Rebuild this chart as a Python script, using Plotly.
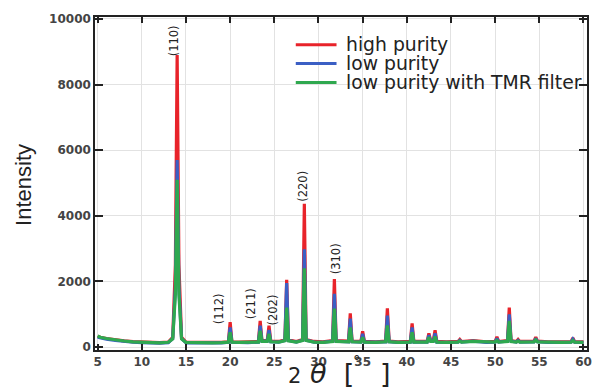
import plotly.graph_objects as go

two_theta = [5.0, 5.3, 6, 7, 8, 9, 10, 11, 12, 13, 13.5, 13.8, 14.0, 14.2, 14.5, 15, 16, 17, 18, 19,
             19.8, 20.0, 20.2, 21, 22, 23.2, 23.4, 23.6, 24.2, 24.4, 24.6, 25.5, 26.2, 26.4, 26.6, 27.5,
             28.2, 28.4, 28.6, 29.5, 30.5, 31.6, 31.8, 32.0, 33.4, 33.6, 33.8, 34.8, 35.0, 35.2, 36.5,
             37.6, 37.8, 38.0, 39, 40.4, 40.6, 40.8, 42.3, 42.5, 42.7, 43.0, 43.2, 43.4, 44.5, 45.8,
             46.0, 46.2, 47.5, 49, 50.0, 50.2, 50.4, 51.4, 51.6, 51.8, 52.4, 52.6, 52.8, 54.4, 54.6,
             54.8, 56, 57.5, 58.6, 58.8, 59.0, 60]

high_purity = [330, 300, 260, 220, 190, 165, 150, 140, 135, 150, 300, 2500, 8900, 2500, 300, 150, 140, 140, 140, 145,
               160, 760, 160, 150, 150, 170, 800, 200, 200, 650, 180, 170, 220, 2050, 220, 170,
               230, 4370, 230, 170, 160, 200, 2075, 200, 180, 1030, 180, 170, 480, 170, 160,
               180, 1180, 180, 160, 170, 720, 170, 170, 420, 200, 200, 510, 170, 160, 170,
               230, 170, 200, 160, 170, 310, 170, 200, 1200, 200, 170, 230, 170, 180, 300,
               180, 160, 160, 165, 280, 165, 160]

low_purity = [300, 280, 240, 200, 170, 150, 135, 125, 120, 135, 260, 1800, 5700, 1800, 260, 130, 125, 125, 125, 130,
              145, 600, 145, 135, 135, 150, 650, 180, 180, 520, 160, 150, 200, 1950, 200, 150,
              210, 2980, 210, 150, 145, 180, 1620, 180, 160, 870, 160, 150, 400, 150, 145,
              160, 960, 160, 145, 150, 600, 150, 150, 360, 180, 180, 420, 150, 145, 150,
              200, 150, 180, 145, 150, 260, 150, 180, 1000, 180, 150, 200, 150, 160, 260,
              160, 145, 145, 150, 240, 150, 145]

low_purity_tmr = [340, 300, 260, 215, 185, 160, 145, 135, 130, 145, 250, 1600, 5100, 1600, 250, 140, 130, 130, 130, 135,
                  150, 450, 150, 140, 140, 150, 500, 170, 170, 400, 160, 150, 190, 1200, 190, 150,
                  200, 2400, 200, 150, 145, 170, 1170, 170, 160, 600, 160, 150, 300, 150, 145,
                  160, 660, 160, 145, 150, 450, 150, 150, 300, 170, 170, 320, 150, 145, 150,
                  180, 150, 170, 145, 150, 200, 150, 170, 800, 170, 150, 180, 150, 160, 220,
                  160, 145, 145, 150, 200, 150, 145]

series_names = ["high purity", "low purity", "low purity with TMR filter"]
series_colors = ["#e8232a", "#3b5fc4", "#2fa84f"]

peak_labels = ["(110)", "(112)", "(211)", "(202)", "(220)", "(310)"]
peak_label_x = [13.65, 18.7, 22.3, 24.8, 28.3, 32.0]
peak_label_y = [9320, 1170, 1320, 1130, 4900, 2680]

x_ticks = [5, 10, 15, 20, 25, 30, 35, 40, 45, 50, 55, 60]
y_ticks = [0, 2000, 4000, 6000, 8000, 10000]

assert len(two_theta) == len(high_purity) == len(low_purity) == len(low_purity_tmr)

fig = go.Figure()
for name, ys, col in zip(series_names, [high_purity, low_purity, low_purity_tmr], series_colors):
    fig.add_trace(go.Scatter(x=two_theta, y=ys, mode="lines", name=name,
                             line=dict(color=col, width=3.2)))

for t, lx, ly in zip(peak_labels, peak_label_x, peak_label_y):
    fig.add_annotation(x=lx, y=ly, text=t, showarrow=False, textangle=-90,
                       font=dict(family="DejaVu Sans", size=11.5, color="#222"))

# legend drawn in paper coordinates (compact spacing like the reference)
L, W, T, H = 95, 495, 14, 336
for i, (name, col) in enumerate(zip(series_names, series_colors)):
    py = 42 + 19 * i
    yp = 1 - (py - T) / H
    fig.add_shape(type="line", xref="paper", yref="paper",
                  x0=(297 - L) / W, x1=(338 - L) / W, y0=yp, y1=yp,
                  line=dict(color=col, width=3))
    fig.add_annotation(xref="paper", yref="paper", x=(346 - L) / W, y=yp,
                       xanchor="left", yanchor="middle", text=name, showarrow=False,
                       font=dict(family="DejaVu Sans", size=18.8, color="#222"))

# x-axis title: 2θ [°]
fig.add_annotation(xref="paper", yref="paper", x=(340 - L) / W, y=1 - (374 - T) / H,
                   xanchor="center", yanchor="middle",
                   text="<span style='font-size:21px'>2</span> <i>θ</i>  [   ]",
                   showarrow=False,
                   font=dict(family="DejaVu Sans", size=27, color="#222"))
fig.add_annotation(xref="paper", yref="paper", x=(359 - L) / W, y=1 - (362 - T) / H,
                   xanchor="center", yanchor="middle", text="°", showarrow=False,
                   font=dict(family="DejaVu Sans", size=15, color="#222"))
fig.add_annotation(xref="paper", yref="paper", x=(23 - L) / W, y=1 - (183 - T) / H,
                   textangle=-90, xanchor="center", yanchor="middle",
                   text="Intensity", showarrow=False,
                   font=dict(family="Liberation Sans, Arial", size=22, color="#222"))

axis_common = dict(showline=True, linecolor="#222", linewidth=1.5, mirror="ticks",
                   ticks="inside", tickcolor="#222", tickwidth=1.5,
                   showgrid=True, gridcolor="#e2e2e2", gridwidth=1, zeroline=False,
                   tickfont=dict(family="DejaVu Sans", size=12, color="#444", weight="bold"))

fig.update_xaxes(range=[4.7, 60.4], tickvals=x_ticks, ticktext=[str(v) for v in x_ticks],
                 ticklen=6, **axis_common)
fig.update_yaxes(range=[-90, 10060], tickvals=y_ticks, ticktext=[str(v) for v in y_ticks],
                 ticklen=8, **axis_common)

fig.update_layout(
    width=604, height=392,
    margin=dict(l=95, r=14, t=14, b=42),
    plot_bgcolor="white", paper_bgcolor="white",
    showlegend=False,
)

fig.write_html("out.html", config={"displayModeBar": False},
               post_script="document.body.style.margin='0';")
